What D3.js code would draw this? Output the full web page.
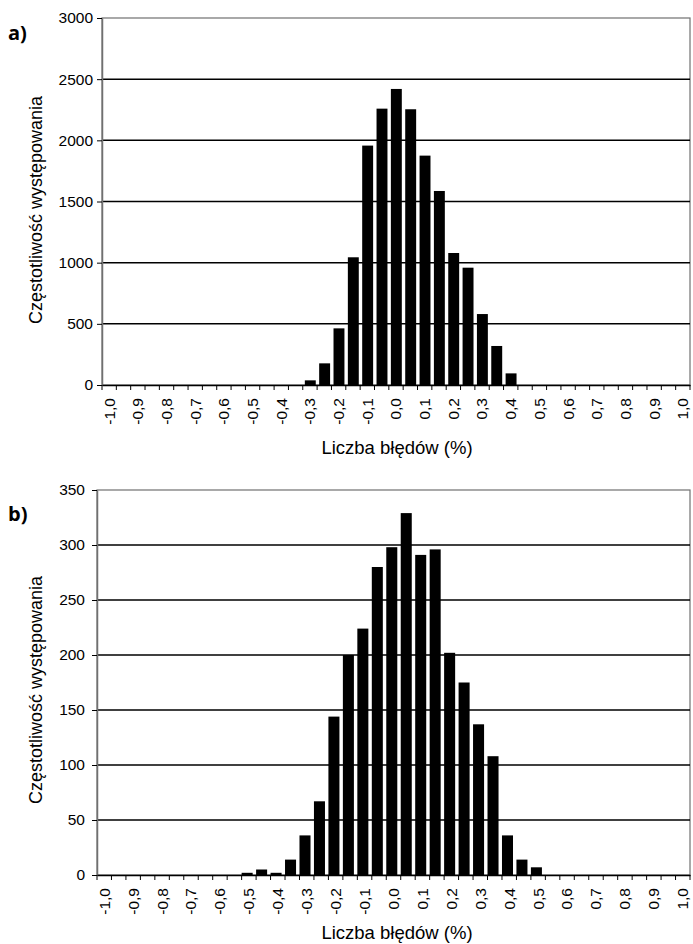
<!DOCTYPE html>
<html>
<head>
<meta charset="utf-8">
<script src="https://cdn.jsdelivr.net/npm/d3@7"></script>
<style>
body { margin: 0; background: #fff; }
text { font-family: "Liberation Sans", Arial, sans-serif; fill: #000; }
.panel-label { font-family: "Open Sans", "Noto Sans", sans-serif; font-weight: bold; }
</style>
</head>
<body>
<svg id="chart" width="693" height="944"></svg>
<script>
// bin centres (%)
var bins = [-1.00, -0.95, -0.90, -0.85, -0.80, -0.75, -0.70, -0.65, -0.60, -0.55,
            -0.50, -0.45, -0.40, -0.35, -0.30, -0.25, -0.20, -0.15, -0.10, -0.05,
             0.00,  0.05,  0.10,  0.15,  0.20,  0.25,  0.30,  0.35,  0.40,  0.45,
             0.50,  0.55,  0.60,  0.65,  0.70,  0.75,  0.80,  0.85,  0.90,  0.95, 1.00];

var tickLabels = ["-1,0", "-0,9", "-0,8", "-0,7", "-0,6", "-0,5", "-0,4", "-0,3", "-0,2", "-0,1",
                  "0,0", "0,1", "0,2", "0,3", "0,4", "0,5", "0,6", "0,7", "0,8", "0,9", "1,0"];

var countsA = [0, 0, 0, 0, 0, 0, 0, 0, 0, 0,
               0, 0, 0, 0, 38, 177, 463, 1044, 1957, 2259,
               2420, 2254, 1875, 1586, 1079, 959, 580, 319, 95, 0,
               0, 0, 0, 0, 0, 0, 0, 0, 0, 0, 0];

var countsB = [0, 0, 0, 0, 0, 0, 0, 0, 0, 0,
               2, 5, 2, 14, 36, 67, 144, 200, 224, 280,
               298, 329, 291, 296, 202, 175, 137, 108, 36, 14,
               7, 0, 0, 0, 0, 0, 0, 0, 0, 0, 0];

var yTicksA = [0, 500, 1000, 1500, 2000, 2500, 3000];
var yTicksB = [0, 50, 100, 150, 200, 250, 300, 350];

var svg = d3.select("#chart");
var axisFont = "Liberation Sans, Arial, sans-serif";

function drawPanel(cfg) {
    var g = svg.append("g");

    var x = d3.scaleBand()
        .domain(bins)
        .range([cfg.left, cfg.right])
        .padding(0);

    // bar inside its category slot
    var inner = d3.scaleBand()
        .domain(["v"])
        .range([0, x.bandwidth()])
        .padding(0.135)
        .align(cfg.align);

    var y = d3.scaleLinear()
        .domain([0, d3.max(cfg.ticks)])
        .range([cfg.bottom, cfg.top]);

    // plot area border
    g.append("rect")
        .attr("x", cfg.left)
        .attr("y", cfg.top)
        .attr("width", cfg.right - cfg.left)
        .attr("height", cfg.bottom - cfg.top)
        .attr("fill", "none")
        .attr("stroke", "#707070")
        .attr("stroke-width", 1.2);

    // gridlines
    g.selectAll(".grid")
        .data(cfg.ticks.filter(function(t){ return t > 0 && t < d3.max(cfg.ticks); }))
        .enter().append("line")
        .attr("class", "grid")
        .attr("x1", cfg.left)
        .attr("x2", cfg.right)
        .attr("y1", function(d){ return y(d); })
        .attr("y2", function(d){ return y(d); })
        .attr("stroke", "#000")
        .attr("stroke-width", 1.5);

    // bars
    g.selectAll(".bar")
        .data(bins.map(function(b, i){ return {bin: b, value: cfg.values[i]}; })
                  .filter(function(d){ return d.value > 0; }))
        .enter().append("rect")
        .attr("class", "bar")
        .attr("x", function(d){ return x(d.bin) + inner("v"); })
        .attr("width", inner.bandwidth())
        .attr("y", function(d){ return y(d.value); })
        .attr("height", function(d){ return y(0) - y(d.value); })
        .attr("fill", "#000");

    // y axis
    var yAxis = g.append("g")
        .attr("transform", "translate(" + cfg.left + ",0)")
        .attr("font-family", axisFont)
        .call(d3.axisLeft(y).tickValues(cfg.ticks).tickFormat(d3.format("d"))
            .tickSize(5).tickPadding(cfg.yPad).tickSizeOuter(0));
    yAxis.attr("font-family", axisFont);
    yAxis.select(".domain").attr("stroke", "#707070").attr("stroke-width", 1.5);
    yAxis.selectAll(".tick line").attr("stroke", "#000");
    yAxis.selectAll(".tick text").style("font-size", "15.5px");

    // x axis: labels on every other bin, tick marks at bin boundaries
    var xAxis = g.append("g")
        .attr("transform", "translate(0," + cfg.bottom + ")")
        .call(d3.axisBottom(x)
            .tickValues(bins.filter(function(b, i){ return i % 2 === 0; }))
            .tickFormat(function(b){ return tickLabels[bins.indexOf(b) / 2]; })
            .tickSize(0)
            .tickSizeOuter(0));
    xAxis.attr("font-family", axisFont);
    xAxis.select(".domain").attr("stroke", "#000").attr("stroke-width", 1.5);
    xAxis.selectAll(".tick text")
        .style("font-size", "15.5px")
        .attr("text-anchor", "end")
        .attr("transform", "rotate(-90)")
        .attr("x", -13)
        .attr("y", 0)
        .attr("dy", "0.35em");

    xAxis.selectAll(".edge")
        .data(bins.map(function(b){ return x(b); }).concat([cfg.right]))
        .enter().append("line")
        .attr("class", "edge")
        .attr("x1", function(d){ return d; })
        .attr("x2", function(d){ return d; })
        .attr("y1", 0)
        .attr("y2", 5)
        .attr("stroke", "#000");

    // titles
    g.append("text")
        .attr("transform", "translate(" + cfg.yTitleX + "," + cfg.yTitleY + ") rotate(-90)")
        .attr("text-anchor", "middle")
        .style("font-size", "18px")
        .text("Częstotliwość występowania");

    g.append("text")
        .attr("x", cfg.xTitleX)
        .attr("y", cfg.xTitleY)
        .attr("text-anchor", "middle")
        .style("font-size", "18.5px")
        .text("Liczba błędów (%)");

    g.append("text")
        .attr("class", "panel-label")
        .attr("x", 8)
        .attr("y", cfg.labelY)
        .style("font-size", "20px")
        .text(cfg.label);
}

drawPanel({
    values: countsA, ticks: yTicksA, label: "a)",
    left: 102, right: 690, top: 18, bottom: 385, align: 0.6, yPad: 4,
    yTitleX: 42, yTitleY: 210, xTitleX: 397, xTitleY: 454, labelY: 40
});

drawPanel({
    values: countsB, ticks: yTicksB, label: "b)",
    left: 97, right: 690, top: 490, bottom: 875, align: 0, yPad: 7,
    yTitleX: 42, yTitleY: 690, xTitleX: 397, xTitleY: 939, labelY: 521
});
</script>
</body>
</html>
